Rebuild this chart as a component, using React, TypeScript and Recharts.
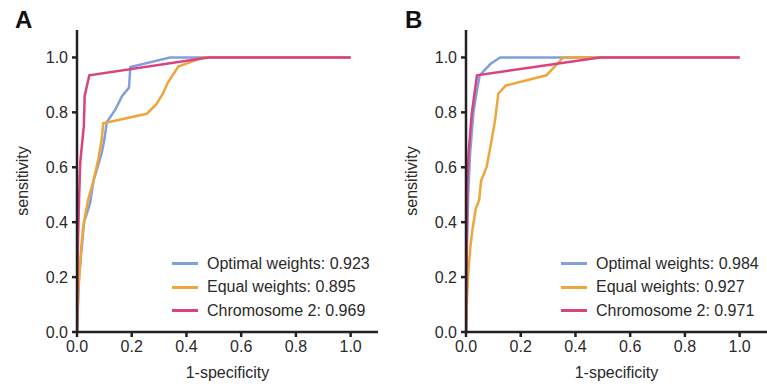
import { LineChart, Line, XAxis, YAxis } from 'recharts'

type Pt = { x: number; y: number }

const xTicks = [0, 0.2, 0.4, 0.6, 0.8, 1.0]
const yTicks = [0, 0.2, 0.4, 0.6, 0.8, 1.0]

// panel A
const optimalA: Pt[] = [
  { x: 0, y: 0 }, { x: 0.007, y: 0.2 }, { x: 0.026, y: 0.4 }, { x: 0.048, y: 0.47 },
  { x: 0.06, y: 0.55 }, { x: 0.09, y: 0.65 }, { x: 0.1, y: 0.7 }, { x: 0.109, y: 0.765 },
  { x: 0.14, y: 0.81 }, { x: 0.165, y: 0.86 }, { x: 0.19, y: 0.89 }, { x: 0.195, y: 0.965 },
  { x: 0.34, y: 1.0 }, { x: 1.0, y: 1.0 },
]
const equalA: Pt[] = [
  { x: 0, y: 0 }, { x: 0.005, y: 0.15 }, { x: 0.015, y: 0.3 }, { x: 0.022, y: 0.38 },
  { x: 0.04, y: 0.48 }, { x: 0.06, y: 0.55 }, { x: 0.078, y: 0.63 }, { x: 0.09, y: 0.7 },
  { x: 0.096, y: 0.76 }, { x: 0.255, y: 0.795 }, { x: 0.29, y: 0.83 }, { x: 0.315, y: 0.87 },
  { x: 0.33, y: 0.905 }, { x: 0.37, y: 0.967 }, { x: 0.46, y: 1.0 }, { x: 1.0, y: 1.0 },
]
const chromA: Pt[] = [
  { x: 0, y: 0 }, { x: 0.003, y: 0.3 }, { x: 0.008, y: 0.5 }, { x: 0.012, y: 0.62 },
  { x: 0.02, y: 0.7 }, { x: 0.025, y: 0.75 }, { x: 0.028, y: 0.86 }, { x: 0.045, y: 0.935 },
  { x: 0.48, y: 1.0 }, { x: 1.0, y: 1.0 },
]

// panel B
const optimalB: Pt[] = [
  { x: 0, y: 0 }, { x: 0.003, y: 0.3 }, { x: 0.008, y: 0.5 }, { x: 0.015, y: 0.65 },
  { x: 0.027, y: 0.8 }, { x: 0.04, y: 0.88 }, { x: 0.05, y: 0.935 }, { x: 0.09, y: 0.977 },
  { x: 0.125, y: 1.0 }, { x: 1.0, y: 1.0 },
]
const equalB: Pt[] = [
  { x: 0, y: 0 }, { x: 0.003, y: 0.1 }, { x: 0.007, y: 0.2 }, { x: 0.015, y: 0.3 },
  { x: 0.023, y: 0.37 }, { x: 0.036, y: 0.45 }, { x: 0.048, y: 0.48 }, { x: 0.055, y: 0.55 },
  { x: 0.075, y: 0.6 }, { x: 0.094, y: 0.7 }, { x: 0.106, y: 0.77 }, { x: 0.118, y: 0.868 },
  { x: 0.146, y: 0.898 }, { x: 0.294, y: 0.935 }, { x: 0.328, y: 0.971 }, { x: 0.355, y: 1.0 },
  { x: 1.0, y: 1.0 },
]
const chromB: Pt[] = [
  { x: 0, y: 0 }, { x: 0.002, y: 0.2 }, { x: 0.005, y: 0.55 }, { x: 0.01, y: 0.66 },
  { x: 0.021, y: 0.795 }, { x: 0.04, y: 0.935 }, { x: 0.49, y: 1.0 }, { x: 1.0, y: 1.0 },
]

const aucA = ['0.923', '0.895', '0.969']
const aucB = ['0.984', '0.927', '0.971']
const seriesNames = ['Optimal weights', 'Equal weights', 'Chromosome 2']
const colors = ['#7fa0dc', '#eda63a', '#d9437f']

const font = '"Liberation Sans", Arial, sans-serif'
const axisColor = '#222'

// legend drawn as plain html, recharts' Legend eats plot height
function RocLegend({ auc, left }: { auc: string[]; left: number }) {
  return (
    <div style={{ position: 'absolute', left, top: 252, fontFamily: font, fontSize: 16, color: '#2a2a2a' }}>
      {seriesNames.map((n, i) => (
        <div key={n} style={{ display: 'flex', alignItems: 'center', height: 23.5, whiteSpace: 'nowrap' }}>
          <span style={{ display: 'inline-block', width: 26, height: 3, background: colors[i], marginRight: 9 }} />
          <span>{`${n}: ${auc[i]}`}</span>
        </div>
      ))}
    </div>
  )
}

function RocPanel({ series }: { series: Pt[][] }) {
  const tickStyle = { fill: '#2a2a2a', fontSize: 16, fontFamily: font }
  return (
    <LineChart width={378} height={389} margin={{ top: 30, right: 0, bottom: 0, left: 0 }}>
      <XAxis
        type="number"
        dataKey="x"
        domain={[0, 1.1]}
        ticks={xTicks}
        tickFormatter={(v: number) => v.toFixed(1)}
        height={57}
        tick={tickStyle}
        tickSize={5}
        tickMargin={4}
        stroke={axisColor}
        strokeWidth={2.5}
        allowDataOverflow
        label={{ value: '1-specificity', position: 'insideBottom', offset: 11, fill: '#2a2a2a', fontSize: 16, fontFamily: font }}
      />
      <YAxis
        type="number"
        dataKey="y"
        domain={[0, 1.1]}
        ticks={yTicks}
        tickFormatter={(v: number) => v.toFixed(1)}
        width={77}
        tick={tickStyle}
        tickSize={5}
        tickMargin={4}
        stroke={axisColor}
        strokeWidth={2.5}
        allowDataOverflow
        label={{ value: 'sensitivity', angle: -90, position: 'center', dx: -16, fill: '#2a2a2a', fontSize: 16, fontFamily: font }}
      />
      {series.map((d, i) => (
        <Line
          key={seriesNames[i]}
          data={d}
          dataKey="y"
          name={seriesNames[i]}
          type="linear"
          stroke={colors[i]}
          strokeWidth={2.5}
          dot={false}
          isAnimationActive={false}
        />
      ))}
    </LineChart>
  )
}

export default function App() {
  const letter = { position: 'absolute' as const, top: 8, fontFamily: font, fontWeight: 700, fontSize: 24, lineHeight: '24px', color: '#111' }
  return (
    <div style={{ position: 'absolute', left: 0, top: 0, width: 767, height: 389, background: '#fff', overflow: 'hidden' }}>
      <div style={{ ...letter, left: 15 }}>A</div>
      <div style={{ ...letter, left: 405 }}>B</div>
      <div style={{ position: 'absolute', left: 0, top: 0 }}>
        <RocPanel series={[optimalA, equalA, chromA]} />
      </div>
      <div style={{ position: 'absolute', left: 389, top: 0 }}>
        <RocPanel series={[optimalB, equalB, chromB]} />
      </div>
      <RocLegend auc={aucA} left={172} />
      <RocLegend auc={aucB} left={561} />
    </div>
  )
}
